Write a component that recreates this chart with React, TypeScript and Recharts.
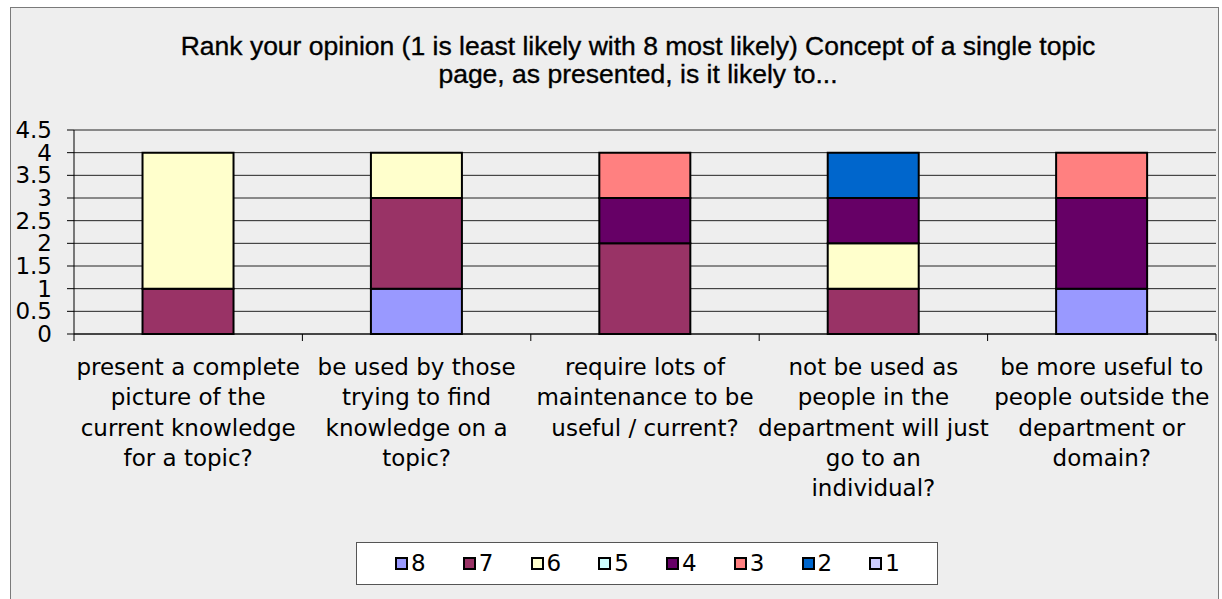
import { Bar, BarChart, CartesianGrid, Legend, XAxis, YAxis } from 'recharts';

// question wording, one entry per line of the axis label
const categoryLines: string[][] = [
  ['present a complete', 'picture of the', 'current knowledge', 'for a topic?'],
  ['be used by those', 'trying to find', 'knowledge on a', 'topic?'],
  ['require lots of', 'maintenance to be', 'useful / current?'],
  ['not be used as', 'people in the', 'department will just', 'go to an', 'individual?'],
  ['be more useful to', 'people outside the', 'department or', 'domain?'],
];
const categories = categoryLines.map((l) => l.join(' '));

// number of answers per rank (8 = most likely)
const rank8 = [0, 1, 0, 0, 1];
const rank7 = [1, 2, 2, 1, 0];
const rank6 = [3, 1, 0, 1, 0];
const rank5 = [0, 0, 0, 0, 0];
const rank4 = [0, 0, 1, 1, 2];
const rank3 = [0, 0, 1, 0, 1];
const rank2 = [0, 0, 0, 1, 0];
const rank1 = [0, 0, 0, 0, 0];

const seriesNames = ['8', '7', '6', '5', '4', '3', '2', '1'];
const seriesValues = [rank8, rank7, rank6, rank5, rank4, rank3, rank2, rank1];
const yTicks = [0, 0.5, 1, 1.5, 2, 2.5, 3, 3.5, 4, 4.5];

const colors: Record<string, string> = {
  '8': '#9999FF',
  '7': '#993366',
  '6': '#FFFFCC',
  '5': '#CCFFFF',
  '4': '#660066',
  '3': '#FF8080',
  '2': '#0066CC',
  '1': '#CCCCFF',
};

const data = categories.map((name, i) => {
  const row: Record<string, string | number> = { name };
  seriesNames.forEach((s, k) => {
    row[s] = seriesValues[k][i];
  });
  return row;
});

const W = 1222;
const H = 599;
const PLOT_LEFT = 74;
const PLOT_RIGHT = 1216;
const PLOT_TOP = 130;
const PLOT_BOTTOM = 334;
const BAND = (PLOT_RIGHT - PLOT_LEFT) / categories.length;
const FONT = '"DejaVu Sans", Verdana, sans-serif';

function CategoryTick(props: any) {
  const { x, payload, index } = props;
  const lines = categoryLines[categories.indexOf(payload.value)] ?? [];
  const last = index === categories.length - 1;
  return (
    <g>
      <line x1={x - BAND / 2} x2={x - BAND / 2} y1={PLOT_BOTTOM} y2={PLOT_BOTTOM + 7} stroke="#000" />
      {last && (
        <line x1={x + BAND / 2} x2={x + BAND / 2} y1={PLOT_BOTTOM} y2={PLOT_BOTTOM + 7} stroke="#000" />
      )}
      <text textAnchor="middle" fontSize={23} fontFamily={FONT} fill="#000">
        {lines.map((l, i) => (
          <tspan key={i} x={x} y={PLOT_BOTTOM + 41 + i * 30.3}>
            {l}
          </tspan>
        ))}
      </text>
    </g>
  );
}

function RankLegend() {
  return (
    <div
      style={{
        boxSizing: 'border-box',
        width: '100%',
        height: '100%',
        background: '#fff',
        border: '1px solid #555',
        display: 'flex',
        alignItems: 'center',
        paddingLeft: 38,
        fontFamily: FONT,
        fontSize: 23,
        color: '#000',
      }}
    >
      {seriesNames.map((s) => (
        <div key={s} style={{ width: 69, display: 'flex', alignItems: 'center' }}>
          <span
            style={{
              display: 'inline-block',
              boxSizing: 'border-box',
              width: 13,
              height: 13,
              background: colors[s],
              border: '2px solid #000',
              marginRight: 3,
            }}
          />
          <span style={{ lineHeight: '23px' }}>{s}</span>
        </div>
      ))}
    </div>
  );
}

export default function App() {
  return (
    <div style={{ position: 'absolute', left: 0, top: 0, width: W, height: H, background: '#fff', overflow: 'hidden' }}>
      <div
        style={{
          position: 'absolute',
          left: 10,
          top: 7,
          width: 1209,
          height: 620,
          boxSizing: 'border-box',
          border: '1px solid #7a7a7a',
          background: '#eeeeee',
        }}
      />
      <div
        style={{
          position: 'absolute',
          left: 88,
          top: 32,
          width: 1100,
          textAlign: 'center',
          fontFamily: '"Liberation Sans", Arial, sans-serif',
          fontSize: 26.5,
          lineHeight: '28px',
          color: '#000',
          WebkitTextStroke: '0.35px #000',
        }}
      >
        Rank your opinion (1 is least likely with 8 most likely) Concept of a single topic
        <br />
        page, as presented, is it likely to...
      </div>
      <div style={{ position: 'absolute', left: 0, top: 0 }}>
        <BarChart
          width={W}
          height={H}
          data={data}
          margin={{ top: PLOT_TOP, right: W - PLOT_RIGHT, bottom: 0, left: 0 }}
          barCategoryGap="30%"
        >
          <CartesianGrid vertical={false} stroke="#000" strokeOpacity={0.85} />
          <XAxis
            dataKey="name"
            height={H - PLOT_BOTTOM}
            interval={0}
            tickLine={false}
            tickSize={7}
            tickMargin={0}
            axisLine={{ stroke: '#000' }}
            tick={(p: any) => <CategoryTick {...p} />}
          />
          <YAxis
            width={PLOT_LEFT}
            domain={[0, 4.5]}
            ticks={yTicks}
            interval={0}
            tickSize={7}
            tickMargin={15}
            axisLine={{ stroke: '#000' }}
            tickLine={{ stroke: '#000' }}
            tick={{ fontSize: 23, fill: '#000', fontFamily: FONT }}
          />
          <Legend
            layout="vertical"
            align="center"
            verticalAlign="middle"
            wrapperStyle={{ left: 356, top: 542, width: 582, height: 43 }}
            content={() => <RankLegend />}
          />
          {seriesNames.map((s) => (
            <Bar
              key={s}
              dataKey={s}
              name={s}
              stackId="ranks"
              fill={colors[s]}
              stroke="#000"
              strokeWidth={2}
              isAnimationActive={false}
            />
          ))}
        </BarChart>
      </div>
    </div>
  );
}
